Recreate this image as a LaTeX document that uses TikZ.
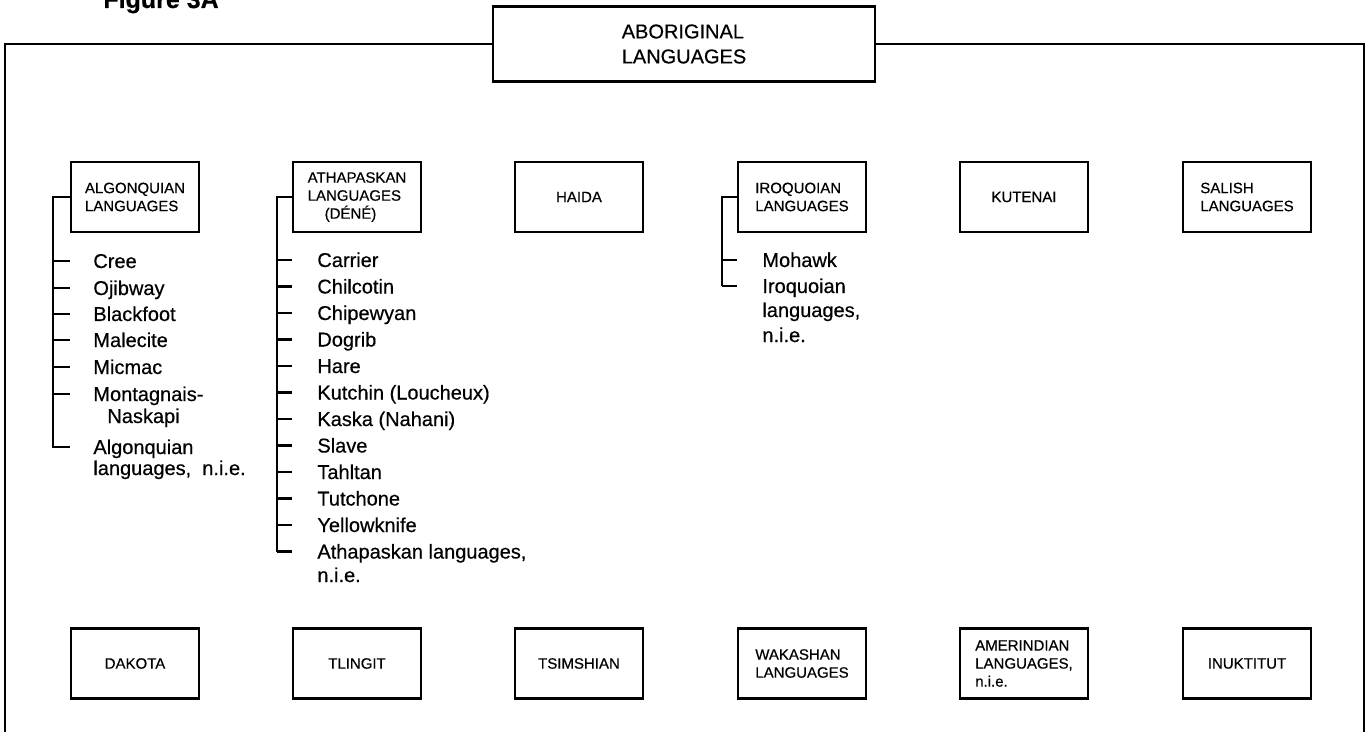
\documentclass[tikz,border=0pt]{standalone}
\usepackage{fontspec}
% slightly heavier strokes, as in a medium-weight typeface
\setmainfont{Liberation Sans}[FakeBold=0.5]
\begin{document}
\begin{tikzpicture}[x=0.5pt,y=-0.5pt,
  box/.style={draw,line width=1.3pt,minimum width=64pt,minimum height=35pt,
    inner sep=0pt,align=left,font=\fontsize{7.5}{9}\selectfont},
  rootbox/.style={draw,line width=1.3pt,minimum width=191pt,minimum height=37.5pt,
    inner sep=0pt,align=left,font=\fontsize{10}{12.5}\selectfont},
  item/.style={anchor=base west,inner sep=0pt,font=\fontsize{10}{12}\selectfont},
  link/.style={line width=1.1pt}]
\useasboundingbox (0,0) rectangle (1368,732);

% title, partly cut off by the page edge
\node[anchor=base west,inner sep=0pt,font=\bfseries\fontsize{12.5}{14}\selectfont] (fig) at (103,8) {Figure 3A};

% root box and the open frame hanging from it
\node[rootbox] (root) at (684,44) {ABORIGINAL\\LANGUAGES};
\coordinate (tl) at (5,44);
\coordinate (bl) at (5,732);
\coordinate (tr) at (1364,44);
\coordinate (br) at (1364,732);
\draw[link] (root.west) -- (tl) -- (bl);
\draw[link] (root.east) -- (tr) -- (br);

% upper row of families
\node[box] (alg) at (135,197) {ALGONQUIAN\\LANGUAGES};
\node[box] (ath) at (357,197) {ATHAPASKAN\\LANGUAGES\\\hspace*{8.5pt}(DÉNÉ)};
\node[box] (hai) at (579,197) {HAIDA};
\node[box] (iro) at (802,197) {IROQUOIAN\\LANGUAGES};
\node[box] (kut) at (1024,197) {KUTENAI};
\node[box] (sal) at (1247,197) {SALISH\\LANGUAGES};

% lower row of families
\node[box] (dak) at (135,663.5) {DAKOTA};
\node[box] (tli) at (357,663.5) {TLINGIT};
\node[box] (tsi) at (579,663.5) {TSIMSHIAN};
\node[box] (wak) at (802,663.5) {WAKASHAN\\LANGUAGES};
\node[box] (ame) at (1024,663.5) {AMERINDIAN\\LANGUAGES,\\n.i.e.};
\node[box] (inu) at (1247,663.5) {INUKTITUT};

% Algonquian languages
\coordinate (algend) at (53,448);
\draw[link] (alg.west) -| (algend);
\foreach \n/\t/\y in {1/Cree/261,2/Ojibway/288,3/Blackfoot/314,4/Malecite/340,
    5/Micmac/367,6/Montagnais-/394,7/Algonquian/447}{
  \node[item] (alg\n) at (93,\y+7) {\t};
  \coordinate (algt\n) at (53,\y);
  \draw[link] (algt\n) -- ++(17,0);
}
\node[item] (alg6b) at (107,423) {Naskapi};
\node[item] (alg7b) at (93,475) {languages,\ \ n.i.e.};

% Athapaskan languages
\coordinate (athend) at (277,551.5);
\draw[link] (ath.west) -| (athend);
\foreach \n/\t in {0/Carrier,1/Chilcotin,2/Chipewyan,3/Dogrib,4/Hare,
    5/{Kutchin (Loucheux)},6/{Kaska (Nahani)},7/Slave,8/Tahltan,9/Tutchone,
    10/Yellowknife,11/{Athapaskan languages,}}{
  \node[item] (ath\n) at (317,260+26.5*\n+7) {\t};
  \coordinate (atht\n) at (277,260+26.5*\n);
  \draw[link] (atht\n) -- ++(15,0);
}
\node[item] (ath11b) at (317,582) {n.i.e.};

% Iroquoian languages
\coordinate (iroend) at (722,286);
\draw[link] (iro.west) -| (iroend);
\node[item] (iro1) at (762,267) {Mohawk};
\coordinate (irot1) at (722,260);
\draw[link] (irot1) -- ++(15,0);
\node[item] (iro2) at (762,293) {Iroquoian};
\draw[link] (iroend) -- ++(15,0);
\node[item] (iro2b) at (762,317) {languages,};
\node[item] (iro2c) at (762,342) {n.i.e.};
\end{tikzpicture}
\end{document}
